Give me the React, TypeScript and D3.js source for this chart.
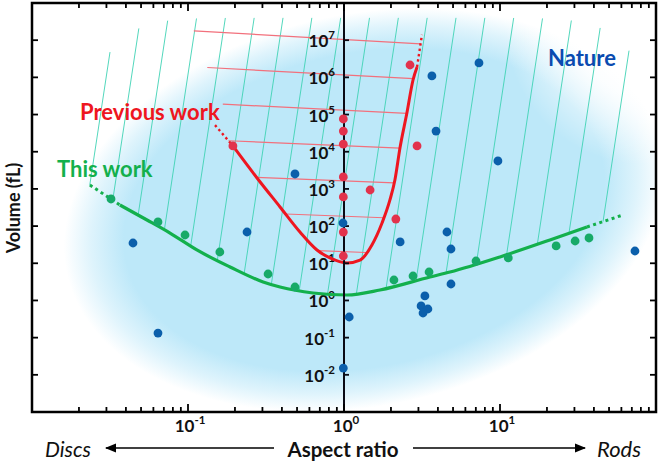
import React from 'react';
import * as d3 from 'd3';

const W = 666;
const H = 461;
const FONT = 'Lato, "Open Sans", "Liberation Sans", sans-serif';

// ---- axis ticks ----
const xMajorTicks = [0.1, 1, 10];
const xTickExponents = ['-1', '0', '1'];
const yMajorTicks = [1e-2, 1e-1, 1e0, 1e1, 1e2, 1e3, 1e4, 1e5, 1e6, 1e7];
const yTickExponents = ['-2', '-1', '0', '1', '2', '3', '4', '5', '6', '7'];

// ---- "This work" boundary curve [aspect ratio, volume (fL)] ----
const thisWorkCurve: [number, number][] = [
  [0.0235, 1274], [0.0366, 369], [0.0546, 146], [0.0767, 65], [0.114, 22.8],
  [0.186, 7.94], [0.303, 3.14], [0.389, 2.3], [0.633, 1.59], [1.045, 1.4],
  [1.7, 1.91], [3.56, 4.28], [4.78, 5.8], [10, 14.8], [20.9, 42.3],
  [36.1, 94.6], [61.4, 199],
];
const thisWorkSolid = [1, 15];

// ---- "Previous work" boundary curve ----
const previousWorkCurve: [number, number][] = [
  [0.149, 5.2e4], [0.194, 1.43e4], [0.277, 1968], [0.389, 327], [0.522, 69.4],
  [0.671, 22.8], [0.813, 13.9], [1.045, 10.2], [1.267, 12.2], [1.51, 31],
  [1.753, 121], [1.97, 504], [2.12, 1740], [2.29, 1.34e4], [2.53, 1.1e5],
  [2.77, 8.5e5], [2.94, 1.9e6], [3.16, 1.4e7],
];
const previousWorkSolid = [1, 16];
const previousWorkMinIndex = 7;
// upper-left edge of the previous-work hatched region
const previousWorkEdge: [number, number][] = [
  [0.094, 1e8], [0.109, 1.77e7], [0.134, 1.68e6], [0.168, 1.81e5],
];

// ---- scatter data ----
const thisWorkPoints: [number, number][] = [
  [0.0321, 536], [0.0642, 129], [0.0957, 57.6], [0.16, 20.1], [0.326, 5.15],
  [0.485, 2.3], [2.09, 3.55], [2.77, 4.55], [3.51, 5.82], [7.02, 11.5],
  [11.3, 13.9], [22.9, 29.2], [30.3, 39.7], [37.2, 47.9],
];
const previousWorkPoints: [number, number][] = [
  [0.194, 1.43e4], [2.65, 2.15e6], [0.99, 7.6e4], [0.99, 3.6e4], [0.99, 1.6e4],
  [2.94, 1.43e4], [0.99, 2100], [1.47, 935], [0.99, 607], [2.15, 155],
  [0.99, 69], [0.99, 15.7],
];
const naturePoints: [number, number][] = [
  [0.485, 2520], [0.0444, 35.1], [0.0642, 0.133], [0.239, 69.4], [0.985, 121],
  [2.29, 37.4], [3.3, 1.32], [1.08, 0.359], [0.99, 0.0152], [4.57, 69.4],
  [4.85, 24.2], [4.85, 2.77], [3.12, 0.71], [3.45, 0.589], [3.21, 0.46],
  [73.3, 21.4], [7.33, 2.44e6], [3.66, 1.09e6], [3.89, 3.6e4], [9.7, 5640],
];

const C = {
  red: '#ee1620',
  redDot: '#e2324c',
  redHatch: '#f2707c',
  green: '#13b04c',
  greenDot: '#17aa68',
  hatch: '#3fd2b4',
  blue: '#0b5fab',
  nature: '#0a4bb0',
  bg: '#bde8f9',
};

type P = [number, number];

function interpY(pts: P[], px: number): number {
  const s = [...pts].sort((a, b) => a[0] - b[0]);
  if (px <= s[0][0]) return s[0][1];
  for (let i = 0; i < s.length - 1; i++) {
    if (px >= s[i][0] && px <= s[i + 1][0]) {
      const t = (px - s[i][0]) / (s[i + 1][0] - s[i][0]);
      return s[i][1] + t * (s[i + 1][1] - s[i][1]);
    }
  }
  return s[s.length - 1][1];
}

function interpX(pts: P[], py: number): number | null {
  for (let i = 0; i < pts.length - 1; i++) {
    const a = pts[i], b = pts[i + 1];
    const lo = Math.min(a[1], b[1]) - 0.01, hi = Math.max(a[1], b[1]) + 0.01;
    if (py >= lo && py <= hi && b[1] !== a[1]) {
      const t = (py - a[1]) / (b[1] - a[1]);
      return a[0] + t * (b[0] - a[0]);
    }
  }
  return null;
}

export default function App() {
  const left = 32, right = 656, top = 3, bottom = 412;
  const x = d3.scaleLog().domain([0.01, 100]).range([left, right]);
  const y = d3.scaleLog().domain([1e-3, 1e8]).range([bottom, top]);
  const xMid = x(1);

  const line = d3
    .line<P>()
    .x((d) => x(d[0]))
    .y((d) => y(d[1]))
    .curve(d3.curveMonotoneX);
  const straight = d3.line<P>().x((d) => x(d[0])).y((d) => y(d[1]));

  // green hatch lines
  const greenPx: P[] = thisWorkCurve.map((d) => [x(d[0]), y(d[1])]);
  const slant = 0.152;
  const hatchLines = d3.range(19).map((i) => {
    const lx = -1.5 + (i * (1.827 + 1.5)) / 18;
    const t = (lx - 0.167) / 1.667;
    const xt = x(Math.pow(10, lx));
    const yt = y(Math.pow(10, 7.6 - 0.92 * Math.pow(Math.abs(t), 10)));
    let yb = interpY(greenPx, xt);
    for (let k = 0; k < 20; k++) yb = interpY(greenPx, xt - slant * (yb - yt));
    const xb = xt - slant * (yb - yt);
    return { x1: xt, y1: yt, x2: xb, y2: yb };
  });

  // red hatch lines
  const redPx: P[] = previousWorkCurve.map((d) => [x(d[0]), y(d[1])]);
  const rightBranch = redPx.slice(previousWorkMinIndex);
  const leftBoundary: P[] = [
    ...previousWorkEdge.map((d) => [x(d[0]), y(d[1])] as P),
    ...redPx.slice(0, previousWorkMinIndex + 1),
  ];
  const redHatch = d3.range(7).map((k) => {
    const lev = 7.25 - 0.985 * k;
    const ly = y(Math.pow(10, lev));
    const ry = y(Math.pow(10, lev - (0.35 - 0.05 * k)));
    const lx = interpX(leftBoundary, ly) ?? x(0.2);
    const rx = interpX(rightBranch, ry) ?? x(2);
    return { x1: lx, y1: ly, x2: rx, y2: ry };
  });

  // ticks
  const minorX: { v: number; major: boolean }[] = [];
  for (let d = -2; d <= 1; d++) {
    for (let m = 1; m <= 9; m++) {
      const v = m * Math.pow(10, d);
      if (v <= 0.01 || v >= 100) continue;
      minorX.push({ v, major: m === 1 });
    }
  }

  const r = 4.4;
  const cx = 364, cy = 210;

  return (
    <svg
      width={W}
      height={H}
      style={{ position: 'absolute', left: 0, top: 0, background: '#fff' }}
      fontFamily={FONT}
    >
      <defs>
        <radialGradient id="bgGrad" cx="0.5" cy="0.5" r="0.5">
          <stop offset="0" stopColor={C.bg} stopOpacity={1} />
          <stop offset="0.8" stopColor={C.bg} stopOpacity={1} />
          <stop offset="0.91" stopColor={C.bg} stopOpacity={0.5} />
          <stop offset="1" stopColor={C.bg} stopOpacity={0} />
        </radialGradient>
        <radialGradient id="whiteGrad" cx="0.5" cy="0.5" r="0.5">
          <stop offset="0" stopColor="#fff" stopOpacity={1} />
          <stop offset="0.5" stopColor="#fff" stopOpacity={0.85} />
          <stop offset="1" stopColor="#fff" stopOpacity={0} />
        </radialGradient>
        <clipPath id="plotClip">
          <rect x={left} y={top} width={right - left} height={bottom - top} />
        </clipPath>
        <marker id="arrowHead" viewBox="0 0 10 10" refX="9" refY="5" markerWidth="7" markerHeight="7" orient="auto-start-reverse">
          <path d="M0,1 L10,5 L0,9 z" fill="#000" />
        </marker>
      </defs>
      <rect x={0} y={0} width={W} height={H} fill="#fff" />
      <g clipPath="url(#plotClip)">
        <ellipse
          cx={cx}
          cy={cy}
          rx={304}
          ry={196}
          fill="url(#bgGrad)"
          transform={`rotate(-12 ${cx} ${cy})`}
        />
        <circle cx={645} cy={25} r={140} fill="url(#whiteGrad)" />
        {hatchLines.map((l, i) => (
          <line key={'h' + i} {...l} stroke={C.hatch} strokeWidth={0.9} />
        ))}
        {redHatch.map((l, i) => (
          <line key={'rh' + i} {...l} stroke={C.redHatch} strokeWidth={1.2} />
        ))}
      </g>

      {/* y tick labels at the middle axis */}
      {yMajorTicks.map((v, i) => (
        <text
          key={'yl' + i}
          x={xMid - 9}
          y={y(v) + 7}
          textAnchor="end"
          fontSize={17}
          fontWeight="bold"
          fill="#111"
        >
          10
          <tspan dy={-8} fontSize={11.5}>
            {yTickExponents[i]}
          </tspan>
        </text>
      ))}

      {/* curves */}
      <path d={straight(thisWorkCurve.slice(0, thisWorkSolid[0] + 1)) || ''} fill="none" stroke={C.green} strokeWidth={3} strokeDasharray="3 3.5" />
      <path d={line(thisWorkCurve.slice(thisWorkSolid[0], thisWorkSolid[1] + 1)) || ''} fill="none" stroke={C.green} strokeWidth={3.2} />
      <path d={straight(thisWorkCurve.slice(thisWorkSolid[1])) || ''} fill="none" stroke={C.green} strokeWidth={3} strokeDasharray="3 3.5" />

      <path d={straight(previousWorkCurve.slice(0, previousWorkSolid[0] + 1)) || ''} fill="none" stroke={C.red} strokeWidth={2.4} strokeDasharray="2.4 3" />
      <path d={line(previousWorkCurve.slice(previousWorkSolid[0], previousWorkSolid[1] + 1)) || ''} fill="none" stroke={C.red} strokeWidth={3} />
      <path d={straight(previousWorkCurve.slice(previousWorkSolid[1])) || ''} fill="none" stroke={C.red} strokeWidth={2.4} strokeDasharray="2.4 3" />

      {/* middle axis at aspect ratio 1 */}
      <line x1={xMid} x2={xMid} y1={top} y2={bottom} stroke="#0a0a14" strokeWidth={2} />
      {yMajorTicks.map((v, i) => (
        <line key={'mt' + i} x1={xMid} x2={xMid + 5} y1={y(v)} y2={y(v)} stroke="#0a0a14" strokeWidth={1.8} />
      ))}

      {/* points */}
      {naturePoints.map((d, i) => (
        <circle key={'n' + i} cx={x(d[0])} cy={y(d[1])} r={r} fill={C.blue} />
      ))}
      {thisWorkPoints.map((d, i) => (
        <circle key={'g' + i} cx={x(d[0])} cy={y(d[1])} r={r} fill={C.greenDot} />
      ))}
      {previousWorkPoints.map((d, i) => (
        <circle key={'p' + i} cx={x(d[0])} cy={y(d[1])} r={r} fill={C.redDot} />
      ))}

      {/* frame & ticks */}
      <rect x={left} y={top} width={right - left} height={bottom - top} fill="none" stroke="#000" strokeWidth={2.5} />
      {minorX.map((t, i) => {
        const len = t.major ? 8 : 5;
        const px = x(t.v);
        return (
          <g key={'xt' + i}>
            <line x1={px} x2={px} y1={bottom} y2={bottom - len} stroke="#000" strokeWidth={1.8} />
            <line x1={px} x2={px} y1={top} y2={top + len} stroke="#000" strokeWidth={1.8} />
          </g>
        );
      })}
      {yMajorTicks.map((v, i) => (
        <g key={'yt' + i}>
          <line x1={left} x2={left + 6} y1={y(v)} y2={y(v)} stroke="#000" strokeWidth={1.8} />
          <line x1={right} x2={right - 6} y1={y(v)} y2={y(v)} stroke="#000" strokeWidth={1.8} />
        </g>
      ))}

      {/* x tick labels */}
      {xMajorTicks.map((v, i) => (
        <text key={'xl' + i} x={x(v) + 2} y={432} textAnchor="middle" fontSize={17} fontWeight="bold" fill="#111">
          10
          <tspan dy={-8} fontSize={11.5}>
            {xTickExponents[i]}
          </tspan>
        </text>
      ))}

      {/* axis titles */}
      <text x={343} y={457} textAnchor="middle" fontSize={20.5} fontWeight="bold" fill="#111">
        Aspect ratio
      </text>
      <text x={45} y={457} fontSize={21} fontStyle="italic" fill="#111">
        Discs
      </text>
      <text x={641} y={457} textAnchor="end" fontSize={22} fontStyle="italic" fill="#111">
        Rods
      </text>
      <line x1={274} x2={106} y1={448} y2={448} stroke="#000" strokeWidth={1.6} markerEnd="url(#arrowHead)" />
      <line x1={413} x2={585} y1={448} y2={448} stroke="#000" strokeWidth={1.6} markerEnd="url(#arrowHead)" />
      <text
        transform="translate(20,208) rotate(-90)"
        textAnchor="middle"
        fontSize={18}
        fontWeight="bold"
        fill="#111"
      >
        Volume (fL)
      </text>

      {/* series labels */}
      <text x={80} y={120} fontSize={22} fontWeight="bold" fill={C.red}>
        Previous work
      </text>
      <text x={57} y={177} fontSize={22} fontWeight="bold" fill={C.green}>
        This work
      </text>
      <text x={548} y={66} fontSize={22} fontWeight="bold" fill={C.nature}>
        Nature
      </text>
    </svg>
  );
}
